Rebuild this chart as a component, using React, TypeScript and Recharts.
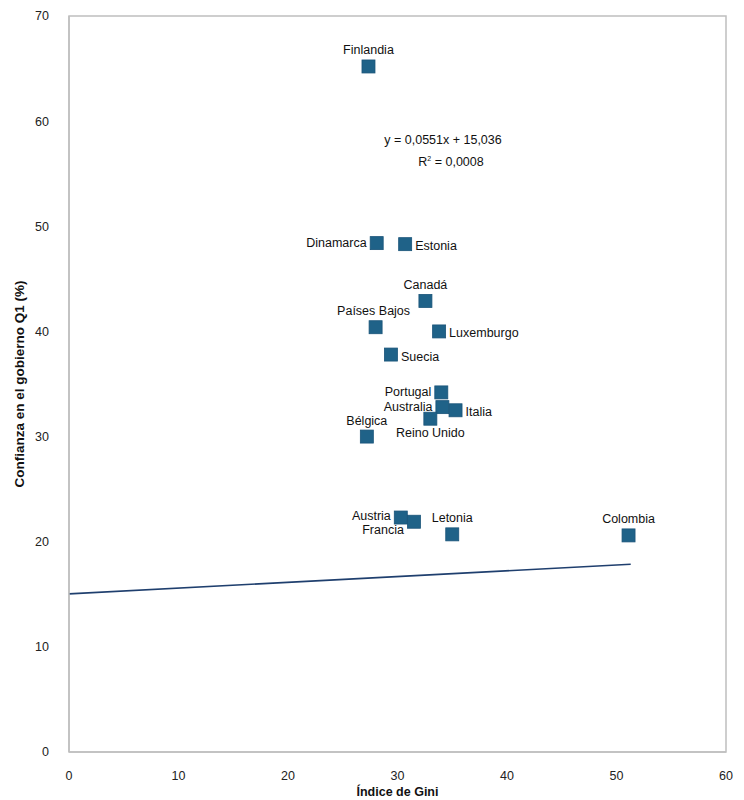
import React from "react";
import {
  ScatterChart,
  Scatter,
  XAxis,
  YAxis,
  ReferenceArea,
  ReferenceLine,
  LabelList,
} from "recharts";

const countries = [
  "Finlandia",
  "Dinamarca",
  "Estonia",
  "Canadá",
  "Países Bajos",
  "Luxemburgo",
  "Suecia",
  "Portugal",
  "Australia",
  "Italia",
  "Reino Unido",
  "Bélgica",
  "Austria",
  "Francia",
  "Letonia",
  "Colombia",
];
const giniValues = [27.35, 28.1, 30.7, 32.55, 28.0, 33.8, 29.4, 34.0, 34.1, 35.3, 33.0, 27.2, 30.3, 31.5, 35.0, 51.1];
const trustValues = [65.2, 48.4, 48.3, 42.9, 40.4, 40.0, 37.8, 34.2, 32.8, 32.5, 31.7, 30.0, 22.3, 21.9, 20.7, 20.6];

const xTicks = [0, 10, 20, 30, 40, 50, 60];
const yTicks = [0, 10, 20, 30, 40, 50, 60, 70];

const trendSlope = 0.0551;
const trendIntercept = 15.036;
const trendXStart = 0;
const trendXEnd = 51.3;

// label placement per country (style only)
const labelPlacement: Record<string, string> = {
  Finlandia: "top",
  Dinamarca: "left",
  Estonia: "right",
  "Canadá": "top",
  "Países Bajos": "topleft",
  Luxemburgo: "right",
  Suecia: "right",
  Portugal: "left",
  Australia: "left",
  Italia: "right",
  "Reino Unido": "bottom",
  "Bélgica": "top",
  Austria: "left",
  Francia: "bottomleft",
  Letonia: "top",
  Colombia: "top",
};

const points = countries.map((name, i) => ({
  name,
  x: giniValues[i],
  y: trustValues[i],
}));

const trendData = [
  { x: trendXStart, y: trendIntercept + trendSlope * trendXStart },
  { x: trendXEnd, y: trendIntercept + trendSlope * trendXEnd },
];

const FONT = "'Liberation Sans', Arial, sans-serif";
const MARKER = "#1f6288";

const SquareShape = (props: any) => {
  const { cx, cy } = props;
  if (cx == null || cy == null) return null;
  const s = 13;
  return <rect x={cx - s / 2} y={cy - s / 2} width={s} height={s} fill={MARKER} stroke="#1a5479" strokeWidth={0.8} />;
};

const CountryLabel = (props: any) => {
  const { x, y, width, height, value } = props;
  const cx = x + width / 2;
  const cy = y + height / 2;
  const pos = labelPlacement[value] || "top";
  let tx = cx;
  let ty = cy;
  let anchor: "start" | "middle" | "end" = "middle";
  if (pos === "top") {
    ty = cy - 12;
  } else if (pos === "bottom") {
    ty = cy + 18;
  } else if (pos === "left") {
    tx = cx - 10;
    ty = cy + 4;
    anchor = "end";
  } else if (pos === "right") {
    tx = cx + 10;
    ty = cy + 6;
    anchor = "start";
  } else if (pos === "topleft") {
    tx = cx - 2;
    ty = cy - 12;
    anchor = "middle";
  } else if (pos === "bottomleft") {
    tx = cx - 10;
    ty = cy + 12;
    anchor = "end";
  }
  if (value === "Austria") ty = cy + 2;
  return (
    <text x={tx} y={ty} textAnchor={anchor} fontFamily={FONT} fontSize={12.5} fill="#111">
      {value}
    </text>
  );
};

export default function App() {
  return (
    <div style={{ width: 736, height: 792, fontFamily: FONT }}>
      <ScatterChart
        width={736}
        height={792}
        margin={{ top: 8, right: 18, bottom: 0, left: 0 }}
      >
        <XAxis
          type="number"
          dataKey="x"
          domain={[0, 60]}
          ticks={xTicks}
          tickLine={false}
          axisLine={{ stroke: "#bfbfbf", strokeWidth: 1.5 }}
          tick={{ fontSize: 12.5, fill: "#222", fontFamily: FONT }}
          tickMargin={13}
          height={48}
          label={{
            value: "Índice de Gini",
            position: "insideBottom",
            offset: 4,
            style: { fontSize: 12.5, fontWeight: "bold", fill: "#111", fontFamily: FONT },
          }}
        />
        <YAxis
          type="number"
          dataKey="y"
          domain={[0, 70]}
          ticks={yTicks}
          tickLine={false}
          axisLine={{ stroke: "#bfbfbf", strokeWidth: 1.5 }}
          tick={{ fontSize: 12.5, fill: "#222", fontFamily: FONT }}
          tickMargin={14}
          width={61}
          label={{
            value: "Confianza en el gobierno Q1 (%)",
            angle: -90,
            position: "insideLeft",
            offset: 11,
            style: { fontSize: 13.5, fontWeight: "bold", fill: "#111", fontFamily: FONT, textAnchor: "middle" },
          }}
        />
        <ReferenceArea
          x1={0}
          x2={60}
          y1={0}
          y2={70}
          fill="none"
          stroke="#bfbfbf"
          strokeWidth={1.5}
          ifOverflow="visible"
        />
        <ReferenceLine
          segment={trendData}
          stroke="#1f3f6e"
          strokeWidth={1.6}
          ifOverflow="visible"
        />
        <Scatter data={points} shape={<SquareShape />} isAnimationActive={false}>
          <LabelList dataKey="name" content={<CountryLabel />} />
        </Scatter>
        <text x={435} y={136} textAnchor="middle" fontFamily={FONT} fontSize={12.5} fill="#111">
          y = 0,0551x + 15,036
        </text>
        <text x={443} y={158} textAnchor="middle" fontFamily={FONT} fontSize={12.5} fill="#111">
          R<tspan fontSize={7} dy={-5}>2</tspan>
          <tspan dy={5}>  = 0,0008</tspan>
        </text>
      </ScatterChart>
    </div>
  );
}
